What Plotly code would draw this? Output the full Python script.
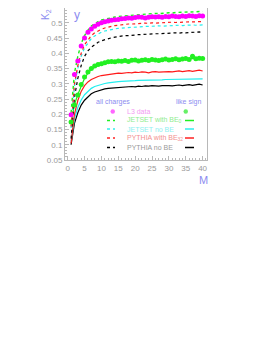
import plotly.graph_objects as go

M = list(range(1, 41))

l3_all = [0.198, 0.33, 0.375, 0.424, 0.45, 0.469, 0.48, 0.489, 0.495, 0.5,
          0.503, 0.506, 0.508, 0.51, 0.511, 0.513, 0.514, 0.516, 0.515, 0.517,
          0.519, 0.518, 0.516, 0.518, 0.52, 0.519, 0.52, 0.518, 0.521, 0.52,
          0.522, 0.521, 0.52, 0.522, 0.521, 0.523, 0.522, 0.521, 0.523, 0.522]
jet_be_all = [0.205, 0.335, 0.39, 0.432, 0.458, 0.476, 0.489, 0.498, 0.504, 0.509,
              0.512, 0.515, 0.517, 0.519, 0.521, 0.522, 0.524, 0.525, 0.525, 0.527,
              0.527, 0.528, 0.529, 0.529, 0.53, 0.531, 0.53, 0.532, 0.532, 0.533,
              0.532, 0.534, 0.534, 0.535, 0.534, 0.536, 0.535, 0.536, 0.537, 0.537]
pyt_be_all = [0.16, 0.3, 0.36, 0.4, 0.428, 0.445, 0.458, 0.467, 0.474, 0.479,
              0.483, 0.486, 0.489, 0.491, 0.492, 0.494, 0.495, 0.496, 0.496, 0.497,
              0.498, 0.497, 0.499, 0.498, 0.5, 0.499, 0.5, 0.501, 0.5, 0.501,
              0.502, 0.501, 0.502, 0.503, 0.502, 0.503, 0.503, 0.504, 0.503, 0.504]
jet_no_all = [0.155, 0.29, 0.35, 0.39, 0.418, 0.435, 0.448, 0.457, 0.464, 0.469,
              0.473, 0.476, 0.478, 0.48, 0.482, 0.483, 0.484, 0.485, 0.486, 0.486,
              0.487, 0.487, 0.488, 0.488, 0.489, 0.489, 0.49, 0.489, 0.49, 0.491,
              0.49, 0.491, 0.492, 0.491, 0.492, 0.492, 0.493, 0.492, 0.493, 0.493]
pyt_no_all = [0.12, 0.255, 0.318, 0.36, 0.39, 0.408, 0.42, 0.429, 0.436, 0.441,
              0.445, 0.448, 0.451, 0.453, 0.455, 0.456, 0.458, 0.458, 0.46, 0.46,
              0.461, 0.462, 0.461, 0.463, 0.463, 0.464, 0.464, 0.465, 0.464, 0.466,
              0.466, 0.467, 0.466, 0.468, 0.467, 0.468, 0.469, 0.468, 0.47, 0.469]

l3_like = [0.175, 0.23, 0.263, 0.298, 0.322, 0.339, 0.35, 0.358, 0.363, 0.366,
           0.369, 0.372, 0.373, 0.372, 0.375, 0.374, 0.376, 0.373, 0.377, 0.378,
           0.375, 0.377, 0.379, 0.376, 0.38, 0.378, 0.376, 0.379, 0.381, 0.378,
           0.38, 0.382, 0.379, 0.381, 0.383, 0.38, 0.39, 0.382, 0.384, 0.383]
jet_be_like = [0.172, 0.232, 0.265, 0.295, 0.318, 0.335, 0.347, 0.355, 0.361, 0.365,
               0.368, 0.37, 0.372, 0.373, 0.374, 0.375, 0.375, 0.376, 0.376, 0.377,
               0.377, 0.378, 0.378, 0.378, 0.379, 0.379, 0.379, 0.38, 0.38, 0.38,
               0.381, 0.381, 0.381, 0.381, 0.382, 0.382, 0.382, 0.382, 0.383, 0.383]
pyt_be_like = [0.105, 0.2, 0.245, 0.275, 0.294, 0.306, 0.314, 0.32, 0.324, 0.327,
               0.329, 0.331, 0.333, 0.334, 0.335, 0.334, 0.336, 0.337, 0.336, 0.338,
               0.337, 0.339, 0.338, 0.336, 0.339, 0.34, 0.338, 0.339, 0.341, 0.34,
               0.339, 0.341, 0.342, 0.34, 0.342, 0.343, 0.341, 0.344, 0.345, 0.342]
jet_no_like = [0.11, 0.185, 0.222, 0.247, 0.264, 0.276, 0.285, 0.291, 0.295, 0.299,
               0.301, 0.303, 0.305, 0.306, 0.307, 0.308, 0.308, 0.309, 0.31, 0.31,
               0.311, 0.311, 0.312, 0.312, 0.312, 0.313, 0.313, 0.313, 0.314, 0.314,
               0.314, 0.314, 0.315, 0.315, 0.315, 0.315, 0.316, 0.316, 0.316, 0.316]
pyt_no_like = [0.1, 0.17, 0.205, 0.23, 0.246, 0.258, 0.267, 0.273, 0.277, 0.28,
               0.283, 0.285, 0.286, 0.287, 0.288, 0.289, 0.288, 0.29, 0.291, 0.29,
               0.292, 0.291, 0.293, 0.292, 0.294, 0.293, 0.292, 0.294, 0.295, 0.294,
               0.293, 0.295, 0.296, 0.294, 0.296, 0.297, 0.295, 0.298, 0.299, 0.296]

x_ticks = [0, 5, 10, 15, 20, 25, 30, 35, 40]
y_ticks = [0.05, 0.1, 0.15, 0.2, 0.25, 0.3, 0.35, 0.4, 0.45, 0.5]
y_tick_text = ["0.05", "0.1", "0.15", "0.2", "0.25", "0.3", "0.35", "0.4", "0.45", "0.5"]

legend_rows = [
    ("L3 data", "#f29af2", None, None),
    ("JETSET with BE<sub>0</sub>", "#8fec8f", "#22ee22", "#22ee22"),
    ("JETSET no BE", "#8ef0f0", "#33eeee", "#33eeee"),
    ("PYTHIA with BE<sub>32</sub>", "#f29090", "#ff2222", "#ff2222"),
    ("PYTHIA no BE", "#9a9a9a", "#000000", "#000000"),
]

RED = "#ff1a1a"
GREEN = "#1aee1a"
CYAN = "#22eeee"
BLACK = "#000000"
MAG = "#ff00ff"

fig = go.Figure()

def line(y, color, dash, width=1.2):
    fig.add_trace(go.Scatter(x=M, y=y, mode="lines",
                             line=dict(color=color, dash=dash, width=width),
                             showlegend=False, hoverinfo="skip"))

line(pyt_no_like, BLACK, "solid")
line(jet_no_like, CYAN, "solid")
line(pyt_be_like, RED, "solid")
line(jet_be_like, GREEN, "solid")
line(pyt_no_all, BLACK, "dot")
line(jet_no_all, CYAN, "dot")
line(pyt_be_all, RED, "dot")
line(jet_be_all, GREEN, "dot", 1.4)

fig.add_trace(go.Scatter(x=M, y=l3_like, mode="markers",
                         marker=dict(color="#22f022", size=5, symbol="circle"),
                         error_y=dict(type="constant", value=0.004, color="#22f022",
                                      thickness=1, width=0),
                         showlegend=False, hoverinfo="skip"))
fig.add_trace(go.Scatter(x=M, y=l3_all, mode="markers",
                         marker=dict(color=MAG, size=5, symbol="circle"),
                         showlegend=False, hoverinfo="skip"))

# page pixels of the reference; the browser body adds an 8px offset
OFF = 8
W, H = 279 - OFF, 361 - OFF
L, R, T, B = 65, 207, 8, 160          # plot frame in page pixels
def px(xp):
    return (xp - L) / (R - L)
def py(yp):
    return (B - yp) / (B - T)

ann = []
shapes = []
fnt = "Liberation Sans, Arial, sans-serif"
ann.append(dict(x=px(94), y=py(102), xref="paper", yref="paper", text="all charges",
                showarrow=False, xanchor="left", yanchor="middle",
                font=dict(size=7, color="#8c8cf0", family=fnt)))
ann.append(dict(x=px(203), y=py(102), xref="paper", yref="paper", text="like sign",
                showarrow=False, xanchor="right", yanchor="middle",
                font=dict(size=7, color="#8c8cf0", family=fnt)))
row_y = [111.5, 120.5, 129, 138, 147.5]
for (label, tcol, dcol, scol), yy in zip(legend_rows, row_y):
    ann.append(dict(x=px(125), y=py(yy), xref="paper", yref="paper", text=label,
                    showarrow=False, xanchor="left", yanchor="middle",
                    font=dict(size=7, color=tcol, family=fnt)))
    if dcol is not None:
        shapes.append(dict(type="line", xref="paper", yref="paper",
                           x0=px(107), x1=px(115), y0=py(yy), y1=py(yy),
                           line=dict(color=dcol, width=1.3, dash="dot")))
        shapes.append(dict(type="line", xref="paper", yref="paper",
                           x0=px(185), x1=px(194), y0=py(yy), y1=py(yy),
                           line=dict(color=scol, width=1.5)))
    else:
        shapes.append(dict(type="circle", xref="paper", yref="paper",
                           x0=px(110.5), x1=px(115), y0=py(yy + 2.3), y1=py(yy - 2.3),
                           fillcolor="#ff66ff", line=dict(width=0)))
        shapes.append(dict(type="circle", xref="paper", yref="paper",
                           x0=px(183.5), x1=px(188), y0=py(yy + 2.3), y1=py(yy - 2.3),
                           fillcolor="#66f066", line=dict(width=0)))

ann.append(dict(x=px(77), y=py(15), xref="paper", yref="paper", text="y",
                showarrow=False, xanchor="center", yanchor="middle",
                font=dict(size=12, color="#8c8cf0", family=fnt)))
ann.append(dict(x=px(203), y=py(180), xref="paper", yref="paper", text="M",
                showarrow=False, xanchor="center", yanchor="middle",
                font=dict(size=11, color="#8c8cf0", family=fnt)))
ann.append(dict(x=px(46), y=py(15), xref="paper", yref="paper", text="K<sub>2</sub>",
                showarrow=False, xanchor="center", yanchor="middle", textangle=-90,
                font=dict(size=10, color="#8c8cf0", family=fnt)))

axis_common = dict(showgrid=False, zeroline=False, showline=True, linecolor="#b8b8b8",
                   linewidth=1, mirror=True, ticks="inside", ticklen=4,
                   tickcolor="#b8b8b8", tickfont=dict(size=8, color="#9a9a9a", family=fnt))

fig.update_layout(
    width=W, height=H,
    margin=dict(l=L - OFF, r=W - (R - OFF), t=T - OFF, b=H - (B - OFF)),
    paper_bgcolor="white", plot_bgcolor="white",
    xaxis=dict(range=[-0.8, 41.3], tickvals=x_ticks, ticklabelstandoff=0,
               minor=dict(dtick=1, ticks="inside", ticklen=2, tickcolor="#b8b8b8"),
               **axis_common),
    yaxis=dict(range=[0.05, 0.5485], tickvals=y_ticks, ticktext=y_tick_text,
               minor=dict(dtick=0.01, tick0=0.05, ticks="inside", ticklen=2, tickcolor="#b8b8b8"),
               **axis_common),
    annotations=ann, shapes=shapes,
)

fig.write_html("out.html")
